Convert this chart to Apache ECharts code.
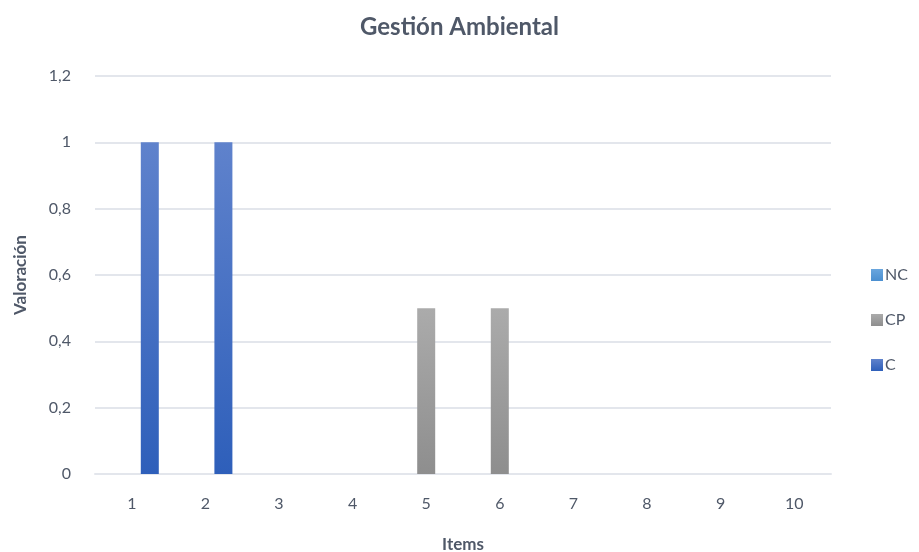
<!DOCTYPE html>
<html><head><meta charset="utf-8">
<script src="https://cdn.jsdelivr.net/npm/echarts@6/dist/echarts.min.js"></script>
<style>html,body{margin:0;padding:0;background:#fff}#c{width:919px;height:552px}</style>
</head><body><div id="c"></div>
<script>
const categories = ['1','2','3','4','5','6','7','8','9','10'];
const seriesNames = ['NC','CP','C'];
const ncValues = [0,0,0,0,0,0,0,0,0,0];
const cpValues = [0,0,0,0,0.5,0.5,0,0,0,0];
const cValues  = [1,1,0,0,0,0,0,0,0,0];
const yTicks = {min:0, max:1.2, interval:0.2};

const font = 'Lato, "Open Sans", sans-serif';
const txt = '#4f5868';
function grad(top, bottom){
  return new echarts.graphic.LinearGradient(0,0,0,1,[{offset:0,color:top},{offset:1,color:bottom}]);
}
const chart = echarts.init(document.getElementById('c'));
chart.setOption({
  animation:false,
  title:{text:'Gestión Ambiental', left:'center', top:10,
    textStyle:{fontFamily:font, fontSize:24, fontWeight:'bold', color:txt}},
  legend:{orient:'vertical', left:866, top:262, itemGap:29, itemWidth:12, itemHeight:12,
    icon:'rect', data:seriesNames,
    textStyle:{fontFamily:font, fontSize:16, color:txt, padding:[0,0,0,-3]}},
  grid:{left:95, right:88, top:76, bottom:78, containLabel:false, outerBoundsMode:'none'},
  xAxis:{type:'category', data:categories,
    name:'Items', nameLocation:'middle', nameGap:62,
    nameTextStyle:{fontFamily:font, fontSize:17, fontWeight:'bold', color:txt},
    axisLine:{lineStyle:{color:'#e3e6ec', width:2}}, axisTick:{show:false},
    axisLabel:{fontFamily:font, fontSize:16, color:txt, margin:22}},
  yAxis:{type:'value', min:yTicks.min, max:yTicks.max, interval:yTicks.interval,
    name:'Valoración', nameLocation:'middle', nameGap:66, nameRotate:90,
    nameTextStyle:{fontFamily:font, fontSize:17, fontWeight:'bold', color:txt},
    axisLine:{show:false}, axisTick:{show:false},
    splitLine:{lineStyle:{color:'#e3e6ec', width:2}},
    axisLabel:{fontFamily:font, fontSize:16, color:txt, margin:24,
      formatter:v=>String(Math.round(v*10)/10).replace('.',',')}},
  series:[
    {name:'NC', type:'bar', data:ncValues, barWidth:18, barGap:'0%',
      itemStyle:{color:grad('#6aa6de','#4b8fd0')}},
    {name:'CP', type:'bar', data:cpValues, barWidth:18, barGap:'0%',
      itemStyle:{color:grad('#ababab','#8e8e8e')}},
    {name:'C', type:'bar', data:cValues, barWidth:18, barGap:'0%',
      itemStyle:{color:grad('#5f82cc','#2e5fba')}}
  ]
});
</script></body></html>
